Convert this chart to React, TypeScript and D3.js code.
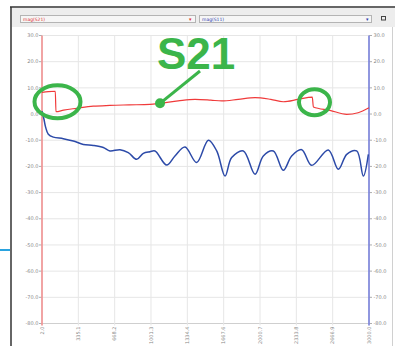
import React from "react";
import * as d3 from "d3";

const xTicks = [2.0, 335.1, 668.2, 1001.3, 1334.4, 1667.6, 2000.7, 2333.8, 2666.9, 3000.0];
const yTicks = [30, 20, 10, 0, -10, -20, -30, -40, -50, -60, -70, -80];

// S21 magnitude (red)
const s21Freq = [2, 60, 124, 130, 200, 320, 472, 625, 800, 992, 1084, 1250, 1405, 1550, 1650, 1800, 1955, 2100, 2214, 2350, 2480, 2490, 2642, 2796, 2900, 3000];
const s21Mag = [8.3, 8.6, 8.7, 0.9, 1.5, 2.2, 3.0, 3.3, 3.5, 3.7, 4.1, 5.0, 5.6, 5.3, 5.0, 5.6, 6.3, 5.6, 4.7, 5.6, 6.5, 2.7, 1.4, -0.1, 0.5, 2.4];

// S11 magnitude (blue)
const s11Freq = [2, 20, 35, 60, 106, 197, 289, 381, 472, 564, 625, 717, 793, 870, 931, 992, 1038, 1145, 1221, 1313, 1420, 1527, 1604, 1680, 1741, 1848, 1955, 2031, 2123, 2214, 2291, 2383, 2474, 2627, 2719, 2796, 2887, 2948, 2994];
const s11Mag = [1.1, -2, -5, -7.7, -8.8, -9.4, -10.3, -11.6, -12, -12.8, -14.1, -13.6, -14.7, -17.3, -15, -14.4, -14.1, -19.5, -16, -12.6, -18.5, -10, -14.1, -23.7, -16.6, -14.1, -23, -16, -14.1, -21.5, -16, -13.6, -19.6, -13.7, -21.1, -15.4, -14.1, -23.7, -15.4];

const legendLabels = ["mag(S21)", "mag(S11)"];
const annotationText = "S21";

export default function App() {
  const x = d3.scaleLinear().domain([2, 3000]).range([42, 369]);
  const y = d3.scaleLinear().domain([-80, 30]).range([323.5, 35.5]);

  const s21 = s21Freq.map((f, i) => [f, s21Mag[i]] as [number, number]);
  const s11 = s11Freq.map((f, i) => [f, s11Mag[i]] as [number, number]);

  const redLine = d3
    .line<[number, number]>()
    .x((d) => x(d[0]))
    .y((d) => y(d[1]))
    .curve(d3.curveMonotoneX);
  const blueLine = d3
    .line<[number, number]>()
    .x((d) => x(d[0]))
    .y((d) => y(d[1]))
    .curve(d3.curveCatmullRom.alpha(0.5));

  const green = "#3bb54a";
  const tickFont = "'DejaVu Sans', sans-serif";

  const dotF = 1084;
  const dotV = 4.1;

  return (
    <div style={{ position: "absolute", left: 0, top: 0 }}>
      <svg width={395} height={346} style={{ display: "block", background: "#fff" }}>
        {/* frame */}
        <rect x={12} y={8} width={383} height={19} fill="#ededed" />
        <line x1={10} y1={7} x2={395} y2={7} stroke="#333" strokeWidth={1.5} />
        <line x1={11} y1={7} x2={11} y2={346} stroke="#333" strokeWidth={1.5} />
        <line x1={392.5} y1={27} x2={392.5} y2={346} stroke="#d0d0d0" strokeWidth={1} />
        <line x1={0} y1={250} x2={10} y2={250} stroke="#2aa3df" strokeWidth={2} />

        {/* dropdowns */}
        <rect x={20.5} y={15.5} width={175} height={7} fill="#f6f6f6" stroke="#b4b4b4" />
        <text x={23} y={21} fontSize={4.5} fill="#e03030" fontFamily={tickFont}>{legendLabels[0]}</text>
        <text x={189} y={21} fontSize={5} fill="#e03030" fontFamily={tickFont}>▾</text>
        <rect x={199.5} y={15.5} width={172} height={7} fill="#f6f6f6" stroke="#b4b4b4" />
        <text x={202} y={21} fontSize={4.5} fill="#3040b0" fontFamily={tickFont}>{legendLabels[1]}</text>
        <text x={366} y={21} fontSize={5} fill="#3040b0" fontFamily={tickFont}>▾</text>
        <rect x={381.5} y={16.5} width={4} height={3.5} fill="none" stroke="#444" strokeWidth={1} />

        {/* grid */}
        {yTicks.map((t) => (
          <g key={"y" + t}>
            <line x1={x(2)} x2={x(3000)} y1={y(t)} y2={y(t)} stroke={t === -80 ? "#cfcfcf" : "#e6e6e6"} strokeWidth={1} />
            <line x1={39} x2={42} y1={y(t)} y2={y(t)} stroke="#999" strokeWidth={0.8} />
            <line x1={369} x2={372} y1={y(t)} y2={y(t)} stroke="#999" strokeWidth={0.8} />
            <text x={38.5} y={y(t) + 1.7} fontSize={5} fill="#888" textAnchor="end" fontFamily={tickFont}>
              {t.toFixed(1)}
            </text>
            <text x={373.5} y={y(t) + 1.7} fontSize={5} fill="#888" textAnchor="start" fontFamily={tickFont}>
              {t.toFixed(1)}
            </text>
          </g>
        ))}
        {xTicks.map((t) => (
          <g key={"x" + t}>
            <line x1={x(t)} x2={x(t)} y1={y(30)} y2={y(-80) + 2} stroke="#e6e6e6" strokeWidth={1} />
            <text
              transform={`translate(${x(t) + 1.8},${y(-80) + 3}) rotate(-90)`}
              fontSize={5}
              fill="#888"
              textAnchor="end"
              fontFamily={tickFont}
            >
              {t.toFixed(1)}
            </text>
          </g>
        ))}

        {/* axes */}
        <line x1={x(2)} x2={x(2)} y1={y(30)} y2={y(-80) + 2} stroke="#f08a8a" strokeWidth={1.5} />
        <line x1={x(3000)} x2={x(3000)} y1={y(30)} y2={y(-80) + 2} stroke="#6f78d8" strokeWidth={1.5} />

        {/* data */}
        <path d={redLine(s21) ?? ""} fill="none" stroke="#f03a3a" strokeWidth={1.2} />
        <path d={blueLine(s11) ?? ""} fill="none" stroke="#2c4aa8" strokeWidth={1.5} />

        {/* annotations */}
        <ellipse cx={57.5} cy={101.7} rx={23} ry={16.5} fill="none" stroke={green} strokeWidth={4} />
        <ellipse cx={314.5} cy={102.2} rx={15.5} ry={13} fill="none" stroke={green} strokeWidth={4} />
        <line x1={x(dotF)} y1={y(dotV)} x2={200} y2={71} stroke={green} strokeWidth={3} />
        <circle cx={x(dotF)} cy={y(dotV)} r={5} fill={green} />
        <text
          x={157}
          y={68.5}
          fontSize={44}
          fontWeight="bold"
          fill={green}
          fontFamily="'Liberation Sans', Arial, sans-serif"
        >
          {annotationText}
        </text>
      </svg>
    </div>
  );
}
